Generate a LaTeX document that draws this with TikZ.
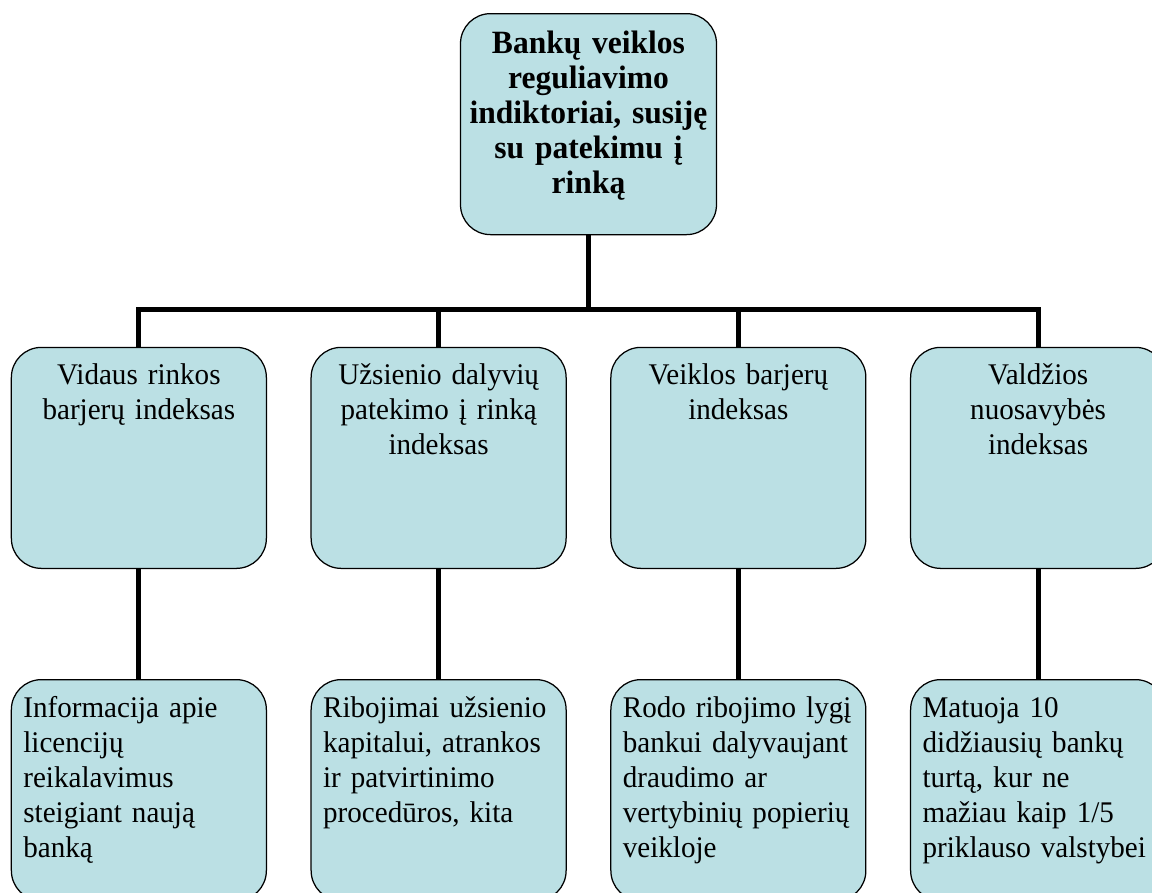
\documentclass[tikz,border=0pt]{standalone}
\usepackage{fontspec}
\setmainfont{Liberation Serif}[FakeStretch=0.97, WordSpace=0.85]
\usetikzlibrary{matrix, positioning, calc}
\definecolor{boxcyan}{RGB}{187,224,228}
\hyphenpenalty=10000
\tikzset{
  box/.style={draw=black, line width=0.5pt, fill=boxcyan, rounded corners=12pt, text width=92.4pt, inner xsep=4.8pt, inner ysep=0pt, text height=15pt, text depth=73.4pt, font=\fontsize{12pt}{14pt}\selectfont},
  head/.style={box, align=center, text width=101.6pt, inner xsep=0.4pt, text height=16pt, text depth=72.4pt, font=\fontsize{13pt}{14pt}\selectfont\bfseries},
  idx/.style={box, align=center},
  info/.style={box, align=left},
  link/.style={draw, line width=2pt}
}

\begin{document}
\begin{tikzpicture}
  \useasboundingbox (0,0) rectangle (460.8pt,-356.8pt);

  \node[head, anchor=north] (top) at (235.4pt,-5.2pt) {Bankų veiklos\\ reguliavimo\\ indiktoriai, susiję\\ su patekimu į\\ rinką};

  \matrix[matrix of nodes, below=44.4pt of top, inner sep=0pt, column sep=17.4pt, row sep=44pt,
          row 1/.style={nodes={idx}}, row 2/.style={nodes={info}}] {
    |(v1)| {Vidaus rinkos\\ barjerų indeksas} &
    |(v2)| {Užsienio dalyvių\\ patekimo į rinką\\ indeksas} &
    |(v3)| {Veiklos barjerų\\ indeksas} &
    |(v4)| {Valdžios\\ nuosavybės\\ indeksas} \\
    |(b1)| {Informacija apie\\ licencijų\\ reikalavimus\\ steigiant naują\\ banką} &
    |(b2)| {Ribojimai užsienio\\ kapitalui, atrankos\\ ir patvirtinimo\\ procedūros, kita} &
    |(b3)| {Rodo ribojimo lygį\\ bankui dalyvaujant\\ draudimo ar\\ vertybinių popierių\\ veikloje} &
    |(b4)| {Matuoja 10\\ didžiausių bankų\\ turtą, kur ne\\ mažiau kaip 1/5\\ priklauso valstybei} \\
  };

  \coordinate (bus) at ($(top.south)+(0,-29.6pt)$);
  \draw[link] (top.south) -- (bus);
  \foreach \i in {1,...,4} {
    \draw[link] (bus) -| (v\i.north);
    \draw[link] (v\i.south) -- (b\i.north);
  }
\end{tikzpicture}
\end{document}
